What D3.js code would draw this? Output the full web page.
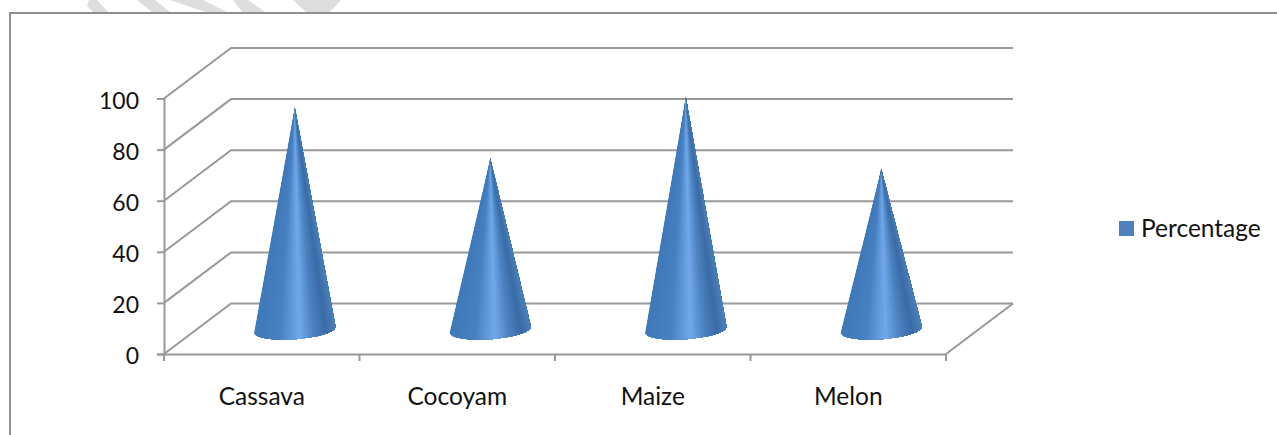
<!DOCTYPE html>
<html>
<head>
<meta charset="utf-8">
<script src="https://cdn.jsdelivr.net/npm/d3@7"></script>
<style>
  html, body { margin: 0; padding: 0; background: #fff; }
  svg { display: block; }
  text { font-family: Lato, "Open Sans", sans-serif; fill: #111; }
</style>
</head>
<body>
<script>
// -------------------- DATA --------------------
var categories = ["Cassava", "Cocoyam", "Maize", "Melon"];
var percentages = [87, 67, 91, 63];
var yTicks = [0, 20, 40, 60, 80, 100];
var seriesName = "Percentage";

// -------------------- DIMENSIONS --------------------
var w = 1277, h = 435;
var plot = { left: 164, right: 946, top: 98.5, bottom: 354 };
var depth = { x: 67, y: -50.5 };   // front corner to back wall
var gridColor = "#999999";

var svg = d3.select("body").append("svg")
  .attr("width", w)
  .attr("height", h);

var defs = svg.append("defs");

var x = d3.scaleBand().domain(categories).range([plot.left, plot.right]);
var y = d3.scaleLinear().domain([0, 100]).range([plot.bottom, plot.top]);

// shading across the cone, 0 = left edge, 1 = right edge
var shade = d3.scaleLinear()
  .domain([0, 0.3, 0.55, 0.72, 0.88, 1])
  .range(["#3f79b9", "#4880c1", "#70a9ea", "#4c82c0", "#3a6ca6", "#4a80bb"]);

// -------------------- WATERMARK + FRAME --------------------
var watermark = [
  [[89, 0], [97, 0], [108, 12], [93, 12], [87, 6]],
  [[137, 0], [155, 0], [170, 12], [152, 12]],
  [[170, 0], [203, 0], [227, 12], [205, 12]],
  [[233, 0], [248, 0], [265, 12], [242, 12]],
  [[293, 0], [341, 0], [330, 12], [306, 12]]
];
svg.append("g").selectAll("polygon")
  .data(watermark)
  .enter()
  .append("polygon")
  .attr("points", function(d) { return d.join(" "); })
  .attr("fill", "#dedede");

svg.append("path")
  .attr("d", "M10,435V13H1277")
  .attr("fill", "none")
  .attr("stroke", "#8f8f8f")
  .attr("stroke-width", 2);

// -------------------- WALLS AND FLOOR --------------------
var walls = svg.append("g")
  .attr("fill", "none")
  .attr("stroke", gridColor)
  .attr("stroke-width", 2);

// back wall gridlines plus the side wall diagonals
walls.selectAll("path.grid")
  .data(yTicks)
  .enter()
  .append("path")
  .attr("class", "grid")
  .attr("d", function(d) {
    return "M" + plot.left + "," + y(d) +
      "L" + (plot.left + depth.x) + "," + (y(d) + depth.y) +
      "H" + (plot.right + depth.x);
  });

// floor right edge
walls.append("path")
  .attr("d", "M" + plot.right + "," + y(0) +
    "L" + (plot.right + depth.x) + "," + (y(0) + depth.y));

// -------------------- AXES --------------------
var yAxis = svg.append("g")
  .attr("transform", "translate(" + plot.left + ",0)")
  .call(d3.axisLeft(y).tickValues(yTicks).tickSize(7).tickPadding(18));

var xAxis = svg.append("g")
  .attr("transform", "translate(0," + plot.bottom + ")")
  .call(d3.axisBottom(x).tickSize(0).tickPadding(34));

[yAxis, xAxis].forEach(function(a) {
  a.select(".domain").attr("stroke", gridColor).attr("stroke-width", 2);
  a.selectAll("line").attr("stroke", gridColor).attr("stroke-width", 2);
  a.selectAll("text").attr("fill", "#111");
});
yAxis.selectAll("text").style("font-size", "23px").attr("dy", "0.42em");
xAxis.selectAll("text").style("font-size", "24.5px");

// tick marks sit on the band edges, not the band centres
var edges = categories.map(function(c) { return x(c); }).concat(plot.right);
xAxis.selectAll("line.edge")
  .data(edges)
  .enter()
  .append("line")
  .attr("class", "edge")
  .attr("x1", function(d) { return d; })
  .attr("x2", function(d) { return d; })
  .attr("y1", 0)
  .attr("y2", 7)
  .attr("stroke", gridColor)
  .attr("stroke-width", 2);

// -------------------- CONES --------------------
var baseY = y(0) + depth.y / 2 + 1;      // floor, half way back
var rx = x.bandwidth() * 0.209, ry = 9.5, tilt = -4.2;
var tiltRad = tilt * Math.PI / 180;
var sectorSteps = d3.range(70);

function basePoint(cx, theta) {
  var a = rx * Math.cos(theta), b = ry * Math.sin(theta);
  return [cx + a * Math.cos(tiltRad) - b * Math.sin(tiltRad),
          baseY + a * Math.sin(tiltRad) + b * Math.cos(tiltRad)];
}

var cones = svg.append("g").selectAll("g")
  .data(percentages)
  .enter()
  .append("g");

cones.each(function(d, i) {
  var cx = x(categories[i]) + x.bandwidth() / 2 + depth.x / 2 - 0.5;
  var apex = [cx, baseY - (y(0) - y(d))];
  var left = basePoint(cx, Math.PI), right = basePoint(cx, 0);
  var outline = "M" + apex +
    "L" + left +
    "A" + rx + "," + ry + " " + tilt + " 0 0 " + right +
    "Z";

  defs.append("clipPath")
    .attr("id", "cone" + i)
    .append("path")
    .attr("d", outline);

  var cone = d3.select(this).attr("clip-path", "url(#cone" + i + ")");

  // each slice covers everything to its right, later ones paint over it,
  // so there are no seams between slices. the clip trims the overshoot.
  cone.selectAll("path")
    .data(sectorSteps)
    .enter()
    .append("path")
    .attr("d", function(k) {
      var t = k / sectorSteps.length;
      var p = basePoint(cx, Math.PI - Math.acos(1 - 2 * t));
      var far = [apex[0] + (p[0] - apex[0]) * 1.2, apex[1] + (p[1] - apex[1]) * 1.2];
      return "M" + apex + "L" + far +
        "L" + (cx + rx * 2) + "," + far[1] +
        "L" + (cx + rx * 2) + "," + apex[1] + "Z";
    })
    .attr("fill", function(k) { return shade((k + 0.5) / sectorSteps.length); });
});

// -------------------- LEGEND --------------------
var legend = svg.append("g").attr("transform", "translate(1119,221)");
legend.append("rect")
  .attr("width", 15)
  .attr("height", 15)
  .attr("fill", "#4f81bd");
legend.append("text")
  .attr("x", 22)
  .attr("y", 16)
  .style("font-size", "24.5px")
  .text(seriesName);
</script>
</body>
</html>
